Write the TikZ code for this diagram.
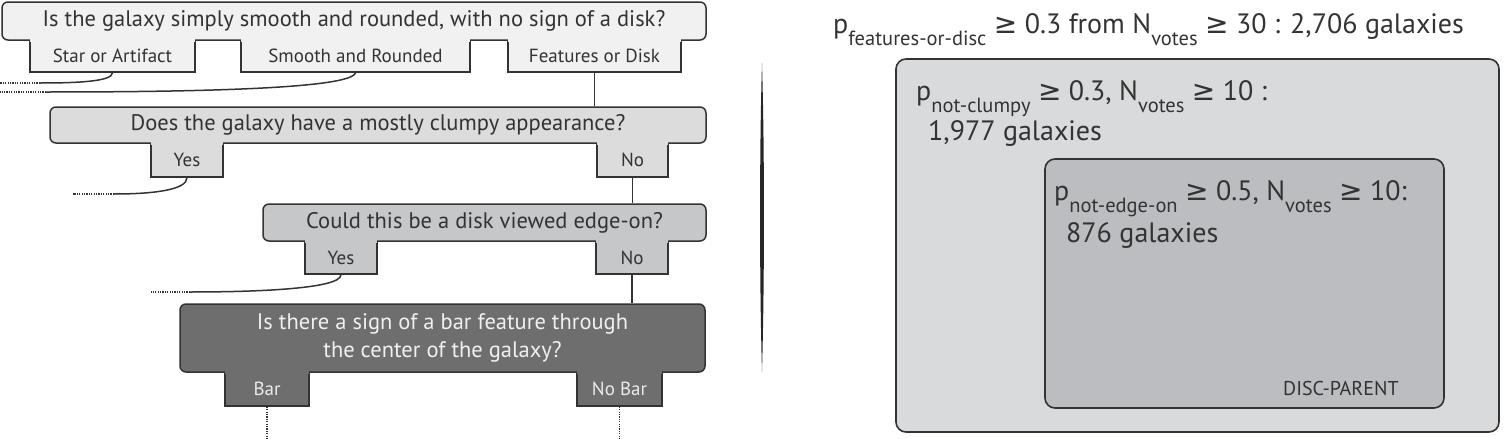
\documentclass[tikz,border=0pt]{standalone}
\usepackage{fontspec}
\setmainfont{PT Sans}
\newfontfamily\symfont{DejaVu Sans}
\usepackage{tikz}
\usetikzlibrary{positioning, calc}

\definecolor{edgegray}{HTML}{333333}
\definecolor{textgray}{HTML}{333333}
\definecolor{qonefill}{HTML}{F1F1F2}
\definecolor{qtwofill}{HTML}{DCDCDD}
\definecolor{qthreefill}{HTML}{C6C7C9}
\definecolor{qfourfill}{HTML}{6E6E6E}
\definecolor{outerfill}{HTML}{D9DADC}
\definecolor{innerfill}{HTML}{BCBDC0}

\newcommand{\lowsub}[1]{\raisebox{-12pt}{\fontsize{20.5}{20.5}\selectfont #1}}
\newcommand{\geqsym}{{\symfont ≥}}

\tikzset{
  qbox/.style={draw=edgegray, line width=1.5pt, rounded corners=6pt, text=textgray,
    font=\fontsize{22.5}{28}\selectfont, inner sep=0pt, align=center},
  tab/.style={draw=edgegray, line width=1.5pt, text=textgray,
    font=\fontsize{19}{21}\selectfont, inner sep=0pt},
  branch/.style={line width=1.5pt, draw=edgegray},
  trail/.style={line width=1.5pt, draw=edgegray, dash pattern=on 1.2pt off 1.2pt},
  setbox/.style={draw=edgegray, line width=1.6pt, rounded corners=10pt, inner sep=0pt},
  settext/.style={anchor=base west, inner sep=0pt, text=textgray, font=\fontsize{28}{32}\selectfont},
}

\begin{document}
\begin{tikzpicture}[x=1pt, y=-1pt]
  \useasboundingbox (0,0) rectangle (1505,439);

  % smooth or features
  \node[tab, fill=qonefill, minimum width=165pt, minimum height=32pt] (star) at (112.5,56) {Star or Artifact};
  \node[tab, fill=qonefill, minimum width=229pt, minimum height=32pt] (smooth) at (355.5,56) {Smooth and Rounded};
  \node[tab, fill=qonefill, minimum width=173pt, minimum height=32pt] (features) at (594.5,56) {Features or Disk};
  \node[qbox, fill=qonefill, minimum width=704pt, minimum height=38pt] (qsmooth) at (354,21)
    {Is the galaxy simply smooth and rounded, with no sign of a disk?};
  \foreach \t in {star, smooth, features}
    \fill[qonefill] ($(\t.north west)+(0.8,-2.5)$) rectangle ($(\t.north east)+(-0.8,2.5)$);

  % clumpy
  \node[tab, fill=qtwofill, minimum width=72pt, minimum height=34pt] (clumpyyes) at (187,160) {Yes};
  \node[tab, fill=qtwofill, minimum width=71pt, minimum height=34pt] (clumpyno) at (632.5,160) {No};
  \node[qbox, fill=qtwofill, minimum width=656pt, minimum height=36pt] (qclumpy) at (378,125)
    {Does the galaxy have a mostly clumpy appearance?};
  \foreach \t in {clumpyyes, clumpyno}
    \fill[qtwofill] ($(\t.north west)+(0.8,-2.5)$) rectangle ($(\t.north east)+(-0.8,2.5)$);

  % edge-on
  \node[tab, fill=qthreefill, minimum width=72pt, minimum height=33pt] (edgeyes) at (341,257.5) {Yes};
  \node[tab, fill=qthreefill, minimum width=72pt, minimum height=33pt] (edgeno) at (632,257.5) {No};
  \node[qbox, fill=qthreefill, minimum width=443pt, minimum height=37pt] (qedge) at (484.5,222.5)
    {Could this be a disk viewed edge-on?};
  \foreach \t in {edgeyes, edgeno}
    \fill[qthreefill] ($(\t.north west)+(0.8,-2.5)$) rectangle ($(\t.north east)+(-0.8,2.5)$);

  % bar
  \node[tab, fill=qfourfill, text=white!92!black, minimum width=84pt, minimum height=34pt] (bar) at (267,389) {Bar};
  \node[tab, fill=qfourfill, text=white!92!black, minimum width=85pt, minimum height=34pt] (nobar) at (619.5,389) {No Bar};
  \node[qbox, fill=qfourfill, text=white!94!black, minimum width=525pt, minimum height=68pt] (qbar) at (442.5,338)
    {Is there a sign of a bar feature through\\the center of the galaxy?};
  \foreach \t in {bar, nobar}
    \fill[qfourfill] ($(\t.north west)+(0.8,-2.5)$) rectangle ($(\t.north east)+(-0.8,2.5)$);

  % branches
  \draw[branch] (features.south) -- (features.south |- qclumpy.north);
  \draw[branch] (clumpyno.south) -- (clumpyno.south |- qedge.north);
  \draw[branch] (edgeno.south) -- (edgeno.south |- qbar.north);

  \coordinate (starend) at (40,83);
  \coordinate (starout) at (0,83);
  \coordinate (smoothend) at (46,92);
  \coordinate (smoothout) at (0,92);
  \coordinate (clumpyend) at (114,194);
  \coordinate (clumpyout) at (73,194);
  \coordinate (edgeend) at (190,292);
  \coordinate (edgeout) at (151,292);
  \coordinate (barout) at (267,439);
  \coordinate (nobarout) at (619.5,439);

  \draw[branch] (star.south) .. controls +(0,9) and +(35,0) .. (starend);
  \draw[trail] (starend) -- (starout);
  \draw[branch] (smooth.south) .. controls +(-4,16) and +(150,0) .. (smoothend);
  \draw[trail] (smoothend) -- (smoothout);
  \draw[branch] (clumpyyes.south) .. controls +(0,12) and +(40,0) .. (clumpyend);
  \draw[trail] (clumpyend) -- (clumpyout);
  \draw[branch] (edgeyes.south) .. controls +(0,15) and +(55,0) .. (edgeend);
  \draw[trail] (edgeend) -- (edgeout);
  \draw[trail] (bar.south) -- (barout);
  \draw[trail] (nobar.south) -- (nobarout);

  % divider
  \fill[black!85] (762,63) .. controls (764.6,150) and (764.6,280) .. (762,372)
    .. controls (759.4,280) and (759.4,150) .. (762,63) -- cycle;

  % sample cuts
  \node[settext] (total) at (833,33)
    {p\lowsub{features-or-disc} \geqsym{} 0.3 from N\lowsub{votes} \geqsym{} 30 : 2,706 galaxies};
  \node[setbox, fill=outerfill, minimum width=603pt, minimum height=373pt] (notclumpy) at (1197.5,245.5) {};
  \node[settext] (clumpylab) at (916,100) {p\lowsub{not-clumpy} \geqsym{} 0.3, N\lowsub{votes} \geqsym{} 10 :};
  \node[settext] (clumpycount) at (928,140) {1,977 galaxies};
  \node[setbox, fill=innerfill, minimum width=399pt, minimum height=249pt] (notedge) at (1244.5,283.5) {};
  \node[settext] (edgelab) at (1054,200) {p\lowsub{not-edge-on} \geqsym{} 0.5, N\lowsub{votes} \geqsym{} 10:};
  \node[settext] (edgecount) at (1066,242) {876 galaxies};
  \node[settext, font=\fontsize{20}{23}\selectfont] (parentlab) at (1283,395) {DISC-PARENT};
\end{tikzpicture}
\end{document}
